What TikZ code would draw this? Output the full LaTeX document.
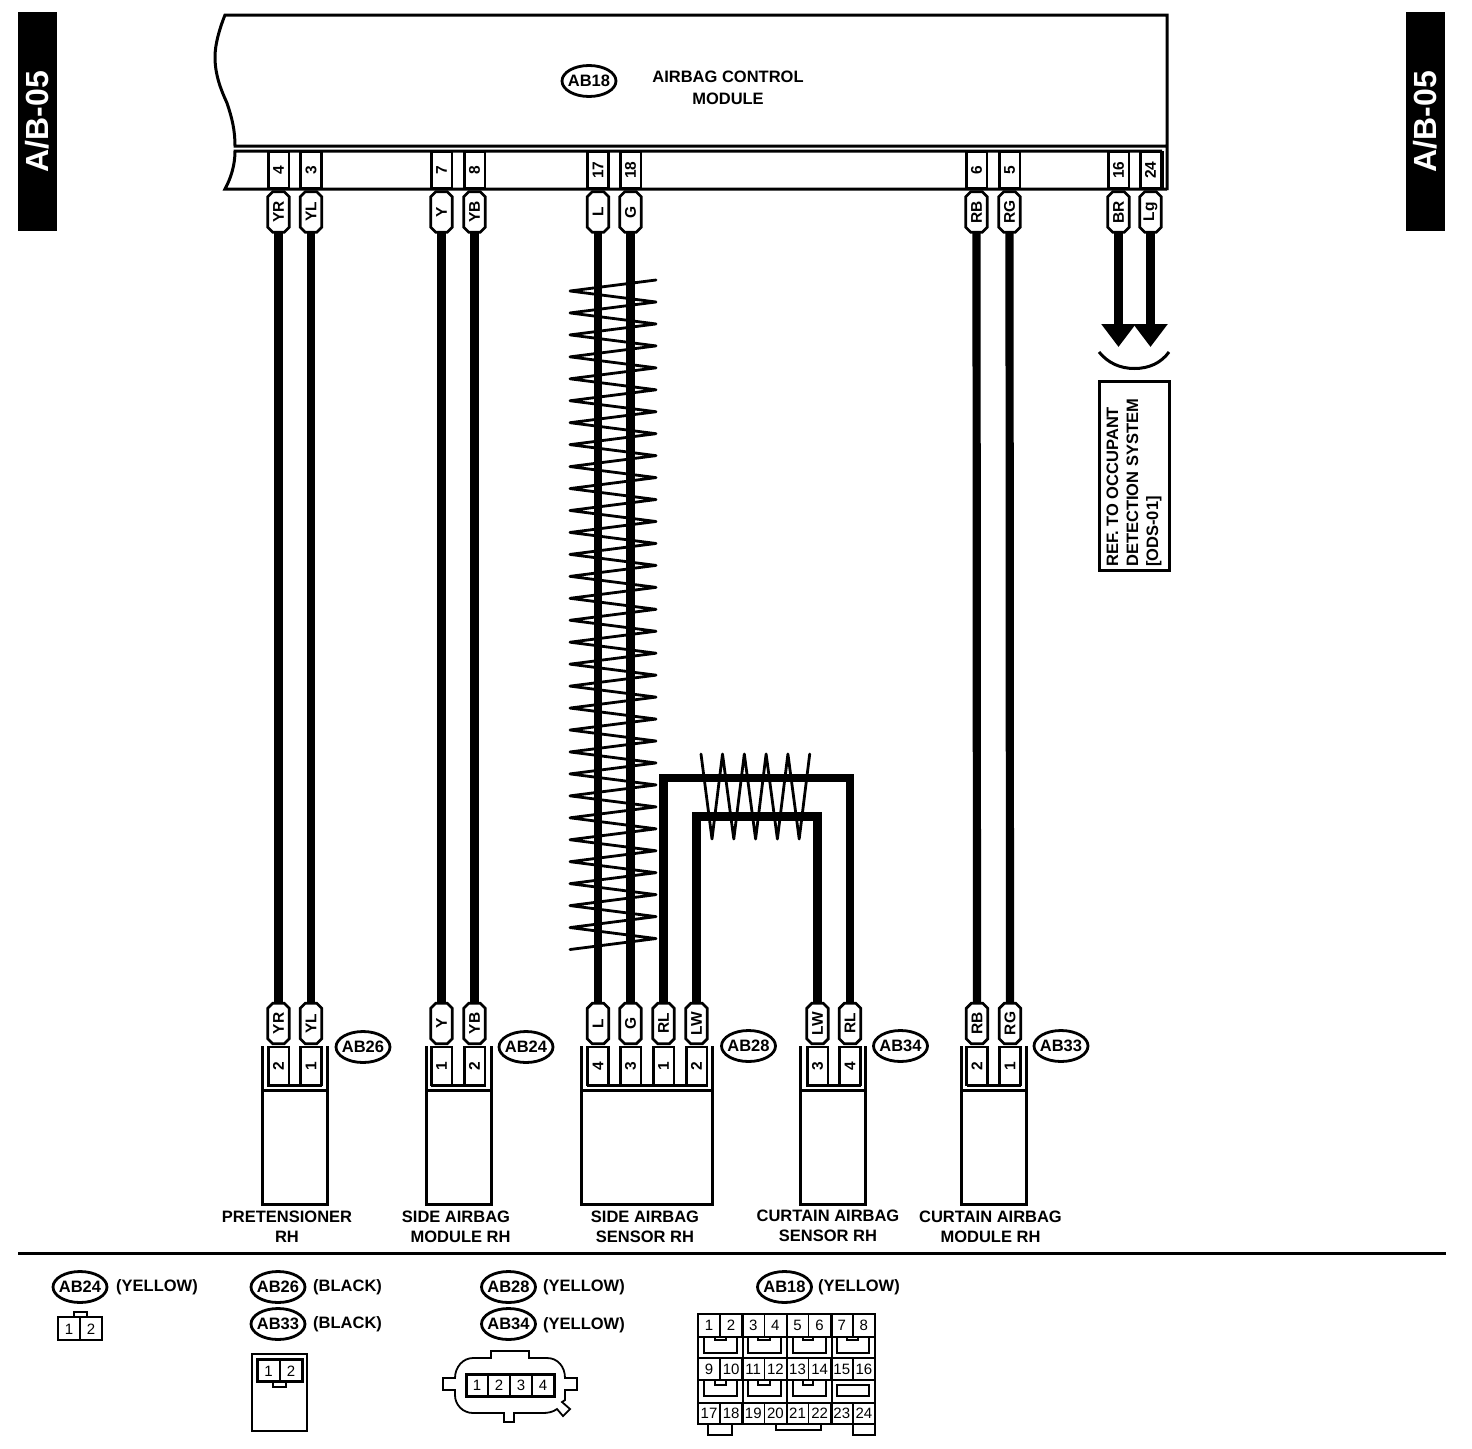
\documentclass[tikz,border=0pt]{standalone}
\usepackage{fontspec}
\setmainfont{Liberation Sans}
\usetikzlibrary{shapes.geometric,shapes.misc,arrows.meta}
\newcommand{\lab}{\fontsize{16.5}{20}\selectfont\bfseries}
\newcommand{\pinf}{\fontsize{15.5}{18}\selectfont\bfseries}
\newcommand{\numf}{\fontsize{15}{18}\selectfont}
\newcommand{\bub}[1]{\makebox[36pt]{#1}}
\tikzset{
  x=1pt,y=-1pt,
  lin/.style={line width=3pt,line cap=butt},
  wire/.style={line width=8.2pt,line join=miter},
  twist/.style={line width=2.8pt,line join=round,line cap=round},
  tagbox/.style={draw,line width=2.8pt,chamfered rectangle,chamfered rectangle xsep=2.5pt,chamfered rectangle ysep=2.5pt,chamfered rectangle angle=45,minimum width=40.5pt,minimum height=21.5pt,inner sep=0pt,outer sep=0pt,rotate=90,font=\pinf},
  cellbox/.style={draw,line width=2.8pt,rectangle,minimum width=37pt,minimum height=20.8pt,inner sep=0pt,outer sep=0pt,rotate=90,font=\pinf},
  lowcell/.style={cellbox,minimum width=38pt},
  bubble/.style={draw,line width=2.8pt,ellipse,minimum width=54pt,minimum height=31pt,inner sep=0pt,font=\lab},
  caption/.style={align=center,inner sep=0pt,font=\lab},
  plain/.style={inner sep=0pt,anchor=west,font=\lab},
  num/.style={inner sep=0pt,font=\numf},
  side/.style={fill=black,text=white,rotate=90,minimum width=219pt,minimum height=39pt,inner sep=0pt,font=\fontsize{32}{36}\selectfont\bfseries},
}
\begin{document}
\begin{tikzpicture}
\useasboundingbox (0,0) rectangle (1472,1448);
% side bars
\node[side] (leftbar) at (37.5,121.5) {A/B-05};
\node[side] (rightbar) at (1425.5,121.5) {A/B-05};
% module
\draw[lin,line width=3pt] (1167,190) -- (1167,15) -- (225,15) .. controls (219,30) and (215,45) .. (215,57) .. controls (215,75) and (221,90) .. (227,103) .. controls (232,118) and (235,130) .. (235,146) -- (1167,146);
\draw[lin,line width=3pt] (1162,151) -- (235,151) .. controls (235,165) and (231,178) .. (225,189) -- (1167,189);
\draw[lin] (1162,151) -- (1162,189);
\node[bubble] (m18) at (589,81) {\bub{AB18}};
\node[caption] (modlabel) at (728,88) {AIRBAG CONTROL\\[2pt]MODULE};
% top pins and wire tags
\foreach \i/\x/\p/\c in {a/278.5/4/YR,b/311/3/YL,c/441.5/7/Y,d/474.5/8/YB,e/598/17/L,f/630.5/18/G,g/976.5/6/RB,h/1009.5/5/RG,i/1118.5/16/BR,j/1150.5/24/Lg}{
  \node[cellbox] (p\i) at (\x,170) {\p};
  \node[tagbox] (t\i) at (\x,212) {\c};
}
% bottom wire tags and cells
\foreach \i/\x/\p/\c in {a/278.5/2/YR,b/311/1/YL,c/441.5/1/Y,d/474.5/2/YB,e/598/4/L,f/630.5/3/G,k/663.5/1/RL,l/696.5/2/LW,m/817.5/3/LW,n/850/4/RL,g/977/2/RB,h/1010/1/RG}{
  \node[tagbox] (u\i) at (\x,1023.5) {\c};
  \node[lowcell] (q\i) at (\x,1066) {\p};
}
% wires
\foreach \i in {a,b,c,d,e,f,g,h}{
  \draw[wire] (t\i.west) -- (u\i.east);
}
\coordinate (corner1) at (664,778);
\coordinate (corner2) at (850,778);
\coordinate (corner3) at (696.5,816.5);
\coordinate (corner4) at (817.5,816.5);
\draw[wire] (uk.east) -- (uk.east |- corner1) -- (un.east |- corner1) -- (un.east);
\draw[wire] (ul.east) -- (ul.east |- corner3) -- (um.east |- corner3) -- (um.east);
% twists
\draw[twist] (656,280) \foreach \k in {0,...,29}{ -- (570,291+21.95*\k) -- (656,302+21.95*\k)} -- (570,949.5);
\draw[twist] (701,754) \foreach \k in {0,...,4}{ -- (712+21.8*\k,839) -- (722.5+21.8*\k,754)};
% arrows to reference
\coordinate (tipi) at (1118.5,347);
\coordinate (tipj) at (1150.5,347);
\draw[wire,-{Triangle[length=23pt,width=33pt]}] (ti.west) -- (tipi);
\draw[wire,-{Triangle[length=23pt,width=33pt]}] (tj.west) -- (tipj);
\draw[lin] (1099,352) .. controls (1108,363) and (1120,368.5) .. (1134.5,368.5) .. controls (1149,368.5) and (1161,363) .. (1169,352);
\draw[lin] (1099,381) rectangle (1169,570);
\node[rotate=90,anchor=west,align=left,inner sep=0pt,font=\lab] (reftext) at (1134,567) {REF. TO OCCUPANT\\DETECTION SYSTEM\\{[ODS-01]}};
% lower connector bodies
\foreach \l/\r in {262/327.5,426/491,581.5/712.5,800.5/865.5,961.5/1026}{
  \draw[lin] (\l,1046) -- (\l,1204) -- (\r,1204) -- (\r,1046);
  \draw[lin] (\l,1090) -- (\r,1090);
}
\draw[lin] (267,1085) -- (322,1085);
\draw[lin] (431,1085) -- (485.5,1085);
\draw[lin] (587,1085) -- (707.5,1085);
\draw[lin] (806,1085) -- (861,1085);
\draw[lin] (966.5,1085) -- (1021,1085);
% bubbles
\node[bubble] (b26) at (363,1047) {\bub{AB26}};
\node[bubble] (b24) at (526,1047) {\bub{AB24}};
\node[bubble] (b28) at (748.5,1046) {\bub{AB28}};
\node[bubble] (b34) at (900.5,1046) {\bub{AB34}};
\node[bubble] (b33) at (1061,1046) {\bub{AB33}};
% captions
\node[caption] (c1) at (287,1227) {PRETENSIONER\\RH};
\node[caption] (c2) at (456,1227) {SIDE AIRBAG\\\ \ MODULE RH};
\node[caption] (c3) at (645,1227) {SIDE AIRBAG\\SENSOR RH};
\node[caption] (c4) at (828,1225.5) {CURTAIN AIRBAG\\SENSOR RH};
\node[caption] (c5) at (990.5,1227) {CURTAIN AIRBAG\\MODULE RH};
\draw[line width=3pt] (18,1253) -- (1446,1253);
% legend bubbles
\node[bubble] (l24) at (80,1287) {\bub{AB24}};
\node[plain] (l24t) at (116,1287.5) {(YELLOW)};
\node[bubble] (l26) at (278,1287) {\bub{AB26}};
\node[plain] (l26t) at (313,1287.5) {(BLACK)};
\node[bubble] (l33) at (278,1324) {\bub{AB33}};
\node[plain] (l33t) at (313,1324.5) {(BLACK)};
\node[bubble] (l28) at (508.5,1287) {\bub{AB28}};
\node[plain] (l28t) at (543,1287.5) {(YELLOW)};
\node[bubble] (l34) at (508.5,1324) {\bub{AB34}};
\node[plain] (l34t) at (543,1325.5) {(YELLOW)};
\node[bubble] (l18) at (784.5,1287) {\bub{AB18}};
\node[plain] (l18t) at (818,1287.5) {(YELLOW)};
% legend connector AB24
\draw[line width=1.8pt] (58,1317) rectangle (102,1340);
\draw[line width=1.8pt] (80,1317) -- (80,1340);
\draw[line width=1.8pt] (74,1317) -- (74,1312) -- (87,1312) -- (87,1317);
\node[num] (n241) at (69,1329.5) {1};
\node[num] (n242) at (91,1329.5) {2};
% legend connector AB26/33
\draw[line width=1.8pt] (252,1354) rectangle (307,1431);
\draw[lin] (257,1359) rectangle (302,1381);
\draw[line width=1.8pt] (280,1359) -- (280,1381);
\draw[line width=1.8pt] (273,1381) -- (273,1387) -- (286,1387) -- (286,1381);
\node[num] (n261) at (268.5,1371) {1};
\node[num] (n262) at (291,1371) {2};
% legend connector AB28/34
\draw[line width=1.8pt] (491,1358) -- (491,1351) -- (529,1351) -- (529,1358) -- (547,1358) .. controls (558,1358) and (565,1367) .. (565,1378) -- (577,1378) -- (577,1390) -- (565,1390) -- (565,1400) -- (562,1402) -- (570,1409) -- (563,1416) -- (557,1409) .. controls (553,1412) and (548,1413) .. (543,1413) -- (514,1413) -- (514,1422) -- (504,1422) -- (504,1413) -- (473,1413) .. controls (463,1413) and (455,1405) .. (455,1395) -- (455,1390) -- (443,1390) -- (443,1378) -- (455,1378) .. controls (455,1367) and (463,1358) .. (473,1358) -- cycle;
\draw[lin] (466,1374) rectangle (554,1396);
\foreach \x in {488,510,532}{\draw[line width=1.8pt] (\x,1374) -- (\x,1396);}
\foreach \n/\x in {1/477,2/499,3/521,4/543}{\node[num] (s\n) at (\x,1385.5) {\n};}
% legend connector AB18
\foreach \t/\b in {1314/1337,1358/1380,1403/1424}{
  \draw[line width=2pt] (698,\t) rectangle (875,\b);
  \foreach \c in {1,...,7}{\draw[line width=1.6pt] (698+22.125*\c,\t) -- (698+22.125*\c,\b);}
}
\foreach \x in {698,742.5,786.7,831.5,875}{\draw[line width=2pt] (\x,1314) -- (\x,1424);}
\foreach \l/\r/\u/\v in {704/737/715/726,748/781/758/770,793/826/803/813,837/869/847/858}{
  \draw[line width=2pt] (\l,1337) -- (\l,1353) -- (\r,1353) -- (\r,1337);
  \draw[line width=1.8pt] (\u,1337) -- (\u,1340) -- (\v,1340) -- (\v,1337);
}
\foreach \l/\r/\u/\v in {704/737/715/726,748/781/758/770,793/826/803/813}{
  \draw[line width=2pt] (\l,1380) -- (\l,1396) -- (\r,1396) -- (\r,1380);
  \draw[line width=1.8pt] (\u,1380) -- (\u,1385) -- (\v,1385) -- (\v,1380);
}
\draw[line width=2pt] (837,1385) rectangle (869,1396);
\draw[line width=2pt] (708,1424) -- (708,1435) -- (732,1435) -- (732,1424);
\draw[line width=2pt] (776,1424) -- (776,1430) -- (821,1430) -- (821,1424);
\draw[line width=2pt] (853,1424) -- (853,1435) -- (875,1435) -- (875,1424);
\foreach \n [count=\c from 0] in {1,...,8}{\node[num] (g\n) at (709+22.125*\c,1325.5) {\n};}
\foreach \n [count=\c from 0] in {9,...,16}{\node[num] (g\n) at (709+22.125*\c,1369) {\n};}
\foreach \n [count=\c from 0] in {17,...,24}{\node[num] (g\n) at (709+22.125*\c,1413.5) {\n};}
\end{tikzpicture}
\end{document}
